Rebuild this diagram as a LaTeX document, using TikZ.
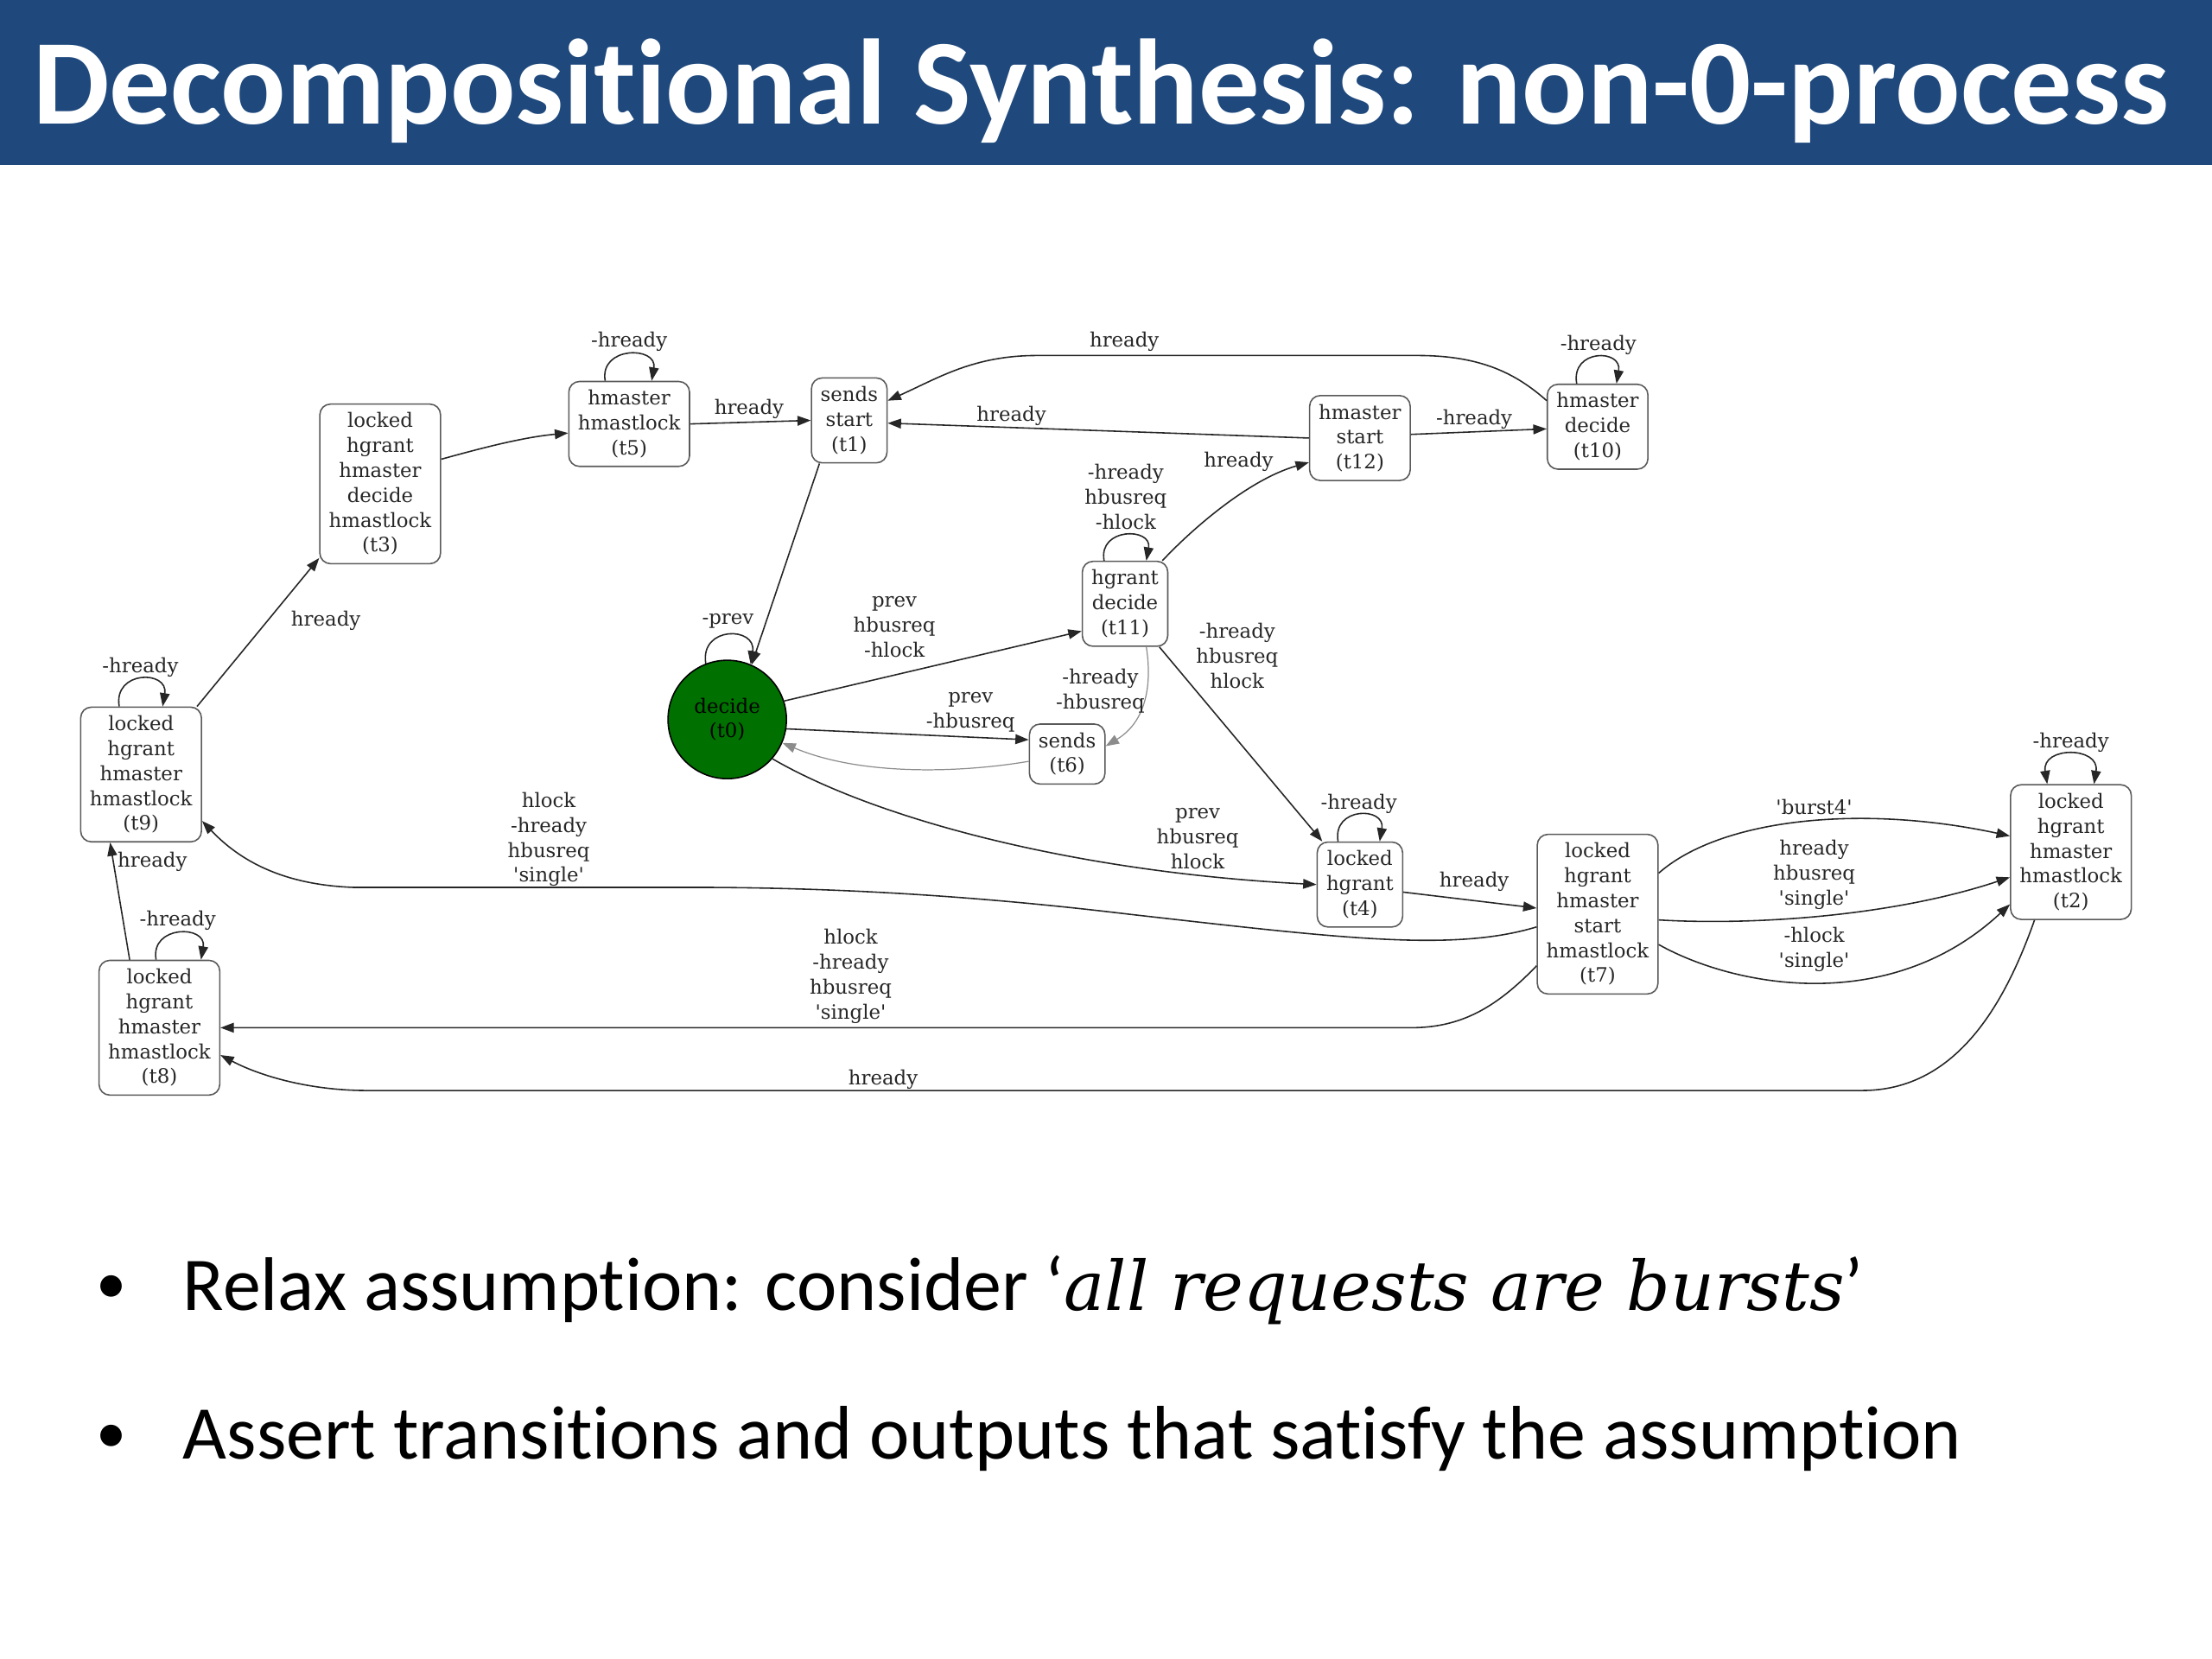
\documentclass[tikz,border=0pt]{standalone}
\usepackage{fontspec}
\usepackage{tikz}
\usetikzlibrary{arrows.meta}
\newfontfamily\slidefont[Ligatures={NoCommon}]{Carlito}
\newfontfamily\gvfont{DejaVu Serif}
\definecolor{slideblue}{RGB}{31,73,125}
\definecolor{stategreen}{RGB}{0,112,0}
\newcommand{\gq}[1]{\textquotesingle#1\textquotesingle}

\begin{document}
\begin{tikzpicture}[x=0.016327cm,y=-0.016327cm,
  gvtext/.style={font=\gvfont\fontsize{6.5}{8.2}\selectfont,text=black!85},
  stbox/.style={gvtext,draw=black!65,line width=0.45pt,rounded corners=3.5pt,
    align=center,inner xsep=3pt,inner ysep=2.8pt},
  initst/.style={gvtext,circle,draw=black,fill=stategreen,line width=0.45pt,
    minimum size=39pt,inner sep=0pt,align=center,text=black},
  elab/.style={gvtext,align=center,inner sep=0pt},
  edg/.style={draw=black!85,line width=0.45pt,-{Triangle[length=4.4pt,width=3.2pt]}},
  ledg/.style={edg,draw=black!45,line width=0.35pt},
  bul/.style={anchor=base west,inner sep=0pt,font=\slidefont\fontsize{25}{30}\selectfont},
  dot/.style={anchor=base west,inner sep=0pt,font=\slidefont\fontsize{20}{24}\selectfont},
]
\useasboundingbox (0,0) rectangle (1568,1176);

% title bar
\fill[slideblue] (0,0) rectangle (1568,117);
\node[anchor=base west,inner sep=0pt,text=white,
  font=\slidefont\bfseries\fontsize{40}{48}\selectfont] (ttl) at (23,88)
  {Decompositional Synthesis: non-0-process};

% states
\node[stbox] (t3) at (269.5,343) {locked\\hgrant\\hmaster\\decide\\hmastlock\\(t3)};
\node[stbox] (t5) at (446,300.5) {hmaster\\hmastlock\\(t5)};
\node[stbox] (t1) at (602,298) {sends\\start\\(t1)};
\node[stbox] (t12) at (964,310.5) {hmaster\\start\\(t12)};
\node[stbox] (t10) at (1132.5,302.5) {hmaster\\decide\\(t10)};
\node[stbox] (t11) at (797.5,428) {hgrant\\decide\\(t11)};
\node[initst] (t0) at (515.5,510) {decide\\(t0)};
\node[stbox] (t6) at (756.5,534.5) {sends\\(t6)};
\node[stbox] (t9) at (100,549) {locked\\hgrant\\hmaster\\hmastlock\\(t9)};
\node[stbox] (t8) at (113,728.5) {locked\\hgrant\\hmaster\\hmastlock\\(t8)};
\node[stbox] (t4) at (964,627) {locked\\hgrant\\(t4)};
\node[stbox] (t7) at (1132.5,648) {locked\\hgrant\\hmaster\\start\\hmastlock\\(t7)};
\node[stbox] (t2) at (1468,604) {locked\\hgrant\\hmaster\\hmastlock\\(t2)};

% self loops
\draw[edg] ([xshift=-7.9pt]t5.north) .. controls +(-2pt,11.5pt) and +(2pt,11.5pt) .. ([xshift=7.4pt]t5.north);
\draw[edg] ([xshift=-6.9pt]t10.north) .. controls +(-2pt,11.5pt) and +(2pt,11.5pt) .. ([xshift=6.2pt]t10.north);
\draw[edg] ([xshift=-6.9pt]t11.north) .. controls +(-2pt,11pt) and +(2pt,11pt) .. ([xshift=7pt]t11.north);
\draw[edg] (t0.111) .. controls +(-2pt,12.5pt) and +(2pt,12.5pt) .. (t0.67);
\draw[edg] ([xshift=-7.2pt]t9.north) .. controls +(-2pt,12pt) and +(2pt,12pt) .. ([xshift=7.1pt]t9.north);
\draw[edg] ([xshift=-1.1pt]t8.north) .. controls +(-2pt,11.5pt) and +(2pt,11.5pt) .. ([xshift=13.7pt]t8.north);
\draw[edg] ([xshift=-7.2pt]t4.north) .. controls +(-2pt,11.5pt) and +(2pt,11.5pt) .. ([xshift=6.5pt]t4.north);
\draw[edg,{Triangle[length=4.4pt,width=3.2pt]}-{Triangle[length=4.4pt,width=3.2pt]}]
  ([xshift=-7.8pt]t2.north) .. controls +(-2pt,12.5pt) and +(2pt,12.5pt) .. ([xshift=7.6pt]t2.north);
\node[elab] (l5) at (446,242) {-hready};
\node[elab] (l10) at (1133,244.5) {-hready};
\node[elab] (l11) at (798,352) {-hready\\hbusreq\\-hlock};
\node[elab] (l0) at (516,440) {-prev};
\node[elab] (l9) at (99.5,473) {-hready};
\node[elab] (l8) at (126,652.5) {-hready};
\node[elab] (l4) at (963.3,569.7) {-hready};
\node[elab] (l2) at (1468,526.6) {-hready};

% transitions, upper part
\draw[edg] (t9) -- (t3);
\node[elab] (l93) at (231,440) {hready};
\draw[edg] (t3.22) .. controls (340,318) and (370,310) .. ([yshift=-3pt]t5.west);
\draw[edg] (t5.east) -- (t1.west);
\node[elab] (l51) at (531,290) {hready};
\draw[edg] ([xshift=-9.8pt]t1.south) -- (t0.66);
\draw[edg] ([yshift=8.6pt]t10.west) .. controls (1075,265) and (1050,252) .. (1005,252)
  -- (735,252) .. controls (690,252) and (665,268) .. ([yshift=6.5pt]t1.east);
\node[elab] (l101) at (797,242) {hready};
\draw[edg] (t12.west) -- ([yshift=-0.9pt]t1.east);
\node[elab] (l121) at (717,295) {hready};
\draw[edg] ([yshift=1.2pt]t12.east) -- ([yshift=-0.7pt]t10.west);
\node[elab] (l1210) at (1045,297) {-hready};
\draw[edg] ([xshift=-2pt]t11.north east) .. controls (845,375) and (885,340) .. ([yshift=-8pt]t12.west);
\node[elab] (l1112) at (878,327) {hready};

% transitions around t0
\draw[edg] (t0.18) -- ([yshift=-9pt]t11.west);
\node[elab] (l011) at (634,444.5) {prev\\hbusreq\\-hlock};
\draw[edg] (t0.351) -- ([yshift=4.7pt]t6.west);
\node[elab] (l06) at (688,505) {prev\\-hbusreq};
\draw[ledg] ([yshift=-2.4pt]t6.west) .. controls (680,548) and (610,550) .. (t0.337);
\draw[ledg] ([xshift=7pt]t11.south) .. controls (816,480) and (815,510) .. ([yshift=2.6pt]t6.east);
\node[elab] (l116) at (780,490) {-hready\\-hbusreq};
\draw[edg] ([xshift=-3pt]t11.south east) -- ([xshift=1.9pt]t4.north west);
\node[elab] (l114) at (877,465) {-hready\\hbusreq\\hlock};
\draw[edg] (t0.319) .. controls (620,580) and (760,618) .. (t4.west);
\node[elab] (l04) at (849,594.5) {prev\\hbusreq\\hlock};
\draw[edg] ([yshift=-2.5pt]t4.east) -- ([yshift=2pt]t7.west);
\node[elab] (l47) at (1045,625) {hready};

% transitions back to the left
\draw[edg] ([yshift=-4.2pt]t7.west) .. controls (1030,675) and (950,665) .. (800,648)
  .. controls (700,636) and (600,629) .. (490,629) -- (250,629)
  .. controls (200,627) and (170,610) .. ([yshift=-15.3pt]t9.east);
\node[elab] (l79) at (389,595) {hlock\\-hready\\hbusreq\\\gq{single}};
\draw[edg] ([yshift=-17pt]t7.west) .. controls (1060,715) and (1035,728.5) .. (1000,728.5) -- (t8.east);
\node[elab] (l78) at (603,692) {hlock\\-hready\\hbusreq\\\gq{single}};
\draw[edg] ([xshift=-12pt]t2.south) .. controls (1420,715) and (1385,773) .. (1320,773)
  -- (260,773) .. controls (220,773) and (185,763) .. ([yshift=-9pt]t8.east);
\node[elab] (l28) at (626,765) {hready};
\draw[edg] ([xshift=-9.8pt]t8.north) -- ([xshift=-10.2pt]t9.south);
\node[elab] (l89) at (108,611) {hready};

% t7 to t2
\draw[edg] ([yshift=13.5pt]t7.east) .. controls (1220,580) and (1320,570) .. ([yshift=5.3pt]t2.west);
\node[elab] (l72a) at (1286,572) {\gq{burst4}};
\draw[edg] ([yshift=-1.9pt]t7.east) .. controls (1240,656) and (1340,650) .. ([yshift=-8.3pt]t2.west);
\node[elab] (l72b) at (1286,620) {hready\\hbusreq\\\gq{single}};
\draw[edg] ([yshift=-10pt]t7.east) .. controls (1230,700) and (1340,720) .. ([yshift=-17.2pt]t2.west);
\node[elab] (l72c) at (1286,673) {-hlock\\\gq{single}};

% bullets
\node[dot] (d1) at (68,924) {•};
\node[bul] (b1) at (129.3,929)
  {Relax assumption: consider ‘{\gvfont\itshape\fontsize{22.5}{27}\selectfont all requests are bursts}’};
\node[dot] (d2) at (68,1030) {•};
\node[bul] (b2) at (129.3,1034)
  {Assert transitions and outputs that satisfy the assumption};
\end{tikzpicture}
\end{document}
